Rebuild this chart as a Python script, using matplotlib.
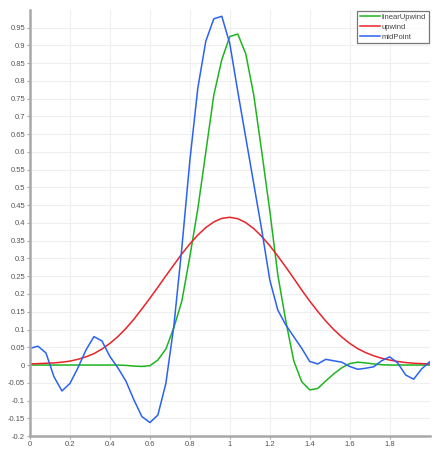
import numpy as np
import matplotlib
matplotlib.use("Agg")
import matplotlib.pyplot as plt
from matplotlib.ticker import FuncFormatter

plt.rcParams['font.family'] = ['Liberation Sans', 'DejaVu Sans']
plt.rcParams['axes.unicode_minus'] = False

# sample positions along the line (0.04 spacing)
x = np.round(np.arange(0, 51) * 0.04, 2)

linearUpwind = [
    0.0, 0.0, 0.0, 0.0, 0.0, 0.0, 0.0, 0.0, 0.0, 0.0,
    0.0, 0.0, -0.001, -0.003, -0.004, -0.002, 0.014, 0.045, 0.105, 0.180,
    0.305, 0.440, 0.600, 0.760, 0.860, 0.925, 0.932, 0.876, 0.760, 0.600,
    0.435, 0.255, 0.125, 0.012, -0.047, -0.070, -0.066, -0.045, -0.025, -0.008,
    0.004, 0.008, 0.006, 0.003, 0.001, 0.0, 0.0, 0.0, 0.0, 0.0,
    0.0,
]

upwind = [
    0.003, 0.004, 0.005, 0.006, 0.008, 0.011, 0.016, 0.023, 0.032, 0.045,
    0.061, 0.080, 0.103, 0.129, 0.158, 0.188, 0.219, 0.251, 0.282, 0.313,
    0.341, 0.366, 0.387, 0.403, 0.413, 0.416, 0.412, 0.401, 0.384, 0.362,
    0.336, 0.307, 0.276, 0.244, 0.211, 0.180, 0.151, 0.124, 0.100, 0.079,
    0.061, 0.046, 0.035, 0.026, 0.019, 0.014, 0.010, 0.007, 0.005, 0.004,
    0.003,
]

midPoint = [
    0.047, 0.053, 0.034, -0.033, -0.073, -0.052, -0.008, 0.042, 0.080, 0.068,
    0.024, -0.008, -0.045, -0.098, -0.145, -0.162, -0.141, -0.052, 0.110, 0.330,
    0.575, 0.780, 0.912, 0.975, 0.982, 0.905, 0.770, 0.640, 0.510, 0.380,
    0.240, 0.155, 0.113, 0.080, 0.047, 0.010, 0.003, 0.016, 0.012, 0.008,
    -0.004, -0.012, -0.009, -0.005, 0.012, 0.023, 0.006, -0.028, -0.040, -0.011,
    0.009,
]

x_ticks = [0, 0.2, 0.4, 0.6, 0.8, 1, 1.2, 1.4, 1.6, 1.8]
y_ticks = np.round(np.arange(-0.2, 0.96, 0.05), 2)


def fmt(v, pos):
    v = round(v, 2) + 0.0
    return '%g' % v if v != 0 else '0'


fig = plt.figure(figsize=(4.37, 4.5), dpi=100)
ax = fig.add_axes([0.0686, 0.031, 0.9145, 0.947])

ax.plot(x, linearUpwind, color='#1fb41f', lw=1.1, label='linearUpwind')
ax.plot(x, upwind, color='#e8232a', lw=1.1, label='upwind')
ax.plot(x, midPoint, color='#2a62f4', lw=1.1, label='midPoint')

ax.set_xlim(0, 2.0)
ax.set_ylim(-0.2, 1.0)
ax.set_xticks(x_ticks)
ax.set_yticks(y_ticks)
ax.xaxis.set_major_formatter(FuncFormatter(fmt))
ax.yaxis.set_major_formatter(FuncFormatter(fmt))

ax.grid(True, color='#efefef', lw=0.8)
ax.set_axisbelow(True)
for s in ['top', 'right']:
    ax.spines[s].set_visible(False)
for s in ['left', 'bottom']:
    ax.spines[s].set_color('#a8a8a8')
    ax.spines[s].set_linewidth(1.8)
ax.tick_params(axis='both', labelsize=5.5, colors='#a8a8a8',
               length=2.5, width=0.8, pad=1)
for lbl in ax.get_xticklabels() + ax.get_yticklabels():
    lbl.set_color('#555555')

leg = ax.legend(loc='upper right', fontsize=5.5, frameon=True, fancybox=False,
                handlelength=2.6, handletextpad=0.3, borderpad=0.35,
                labelspacing=0.35, borderaxespad=0.1)
leg.get_frame().set_edgecolor('#555555')
leg.get_frame().set_linewidth(0.9)
for t in leg.get_texts():
    t.set_color('#444444')

fig.savefig('out.png', dpi=100)
